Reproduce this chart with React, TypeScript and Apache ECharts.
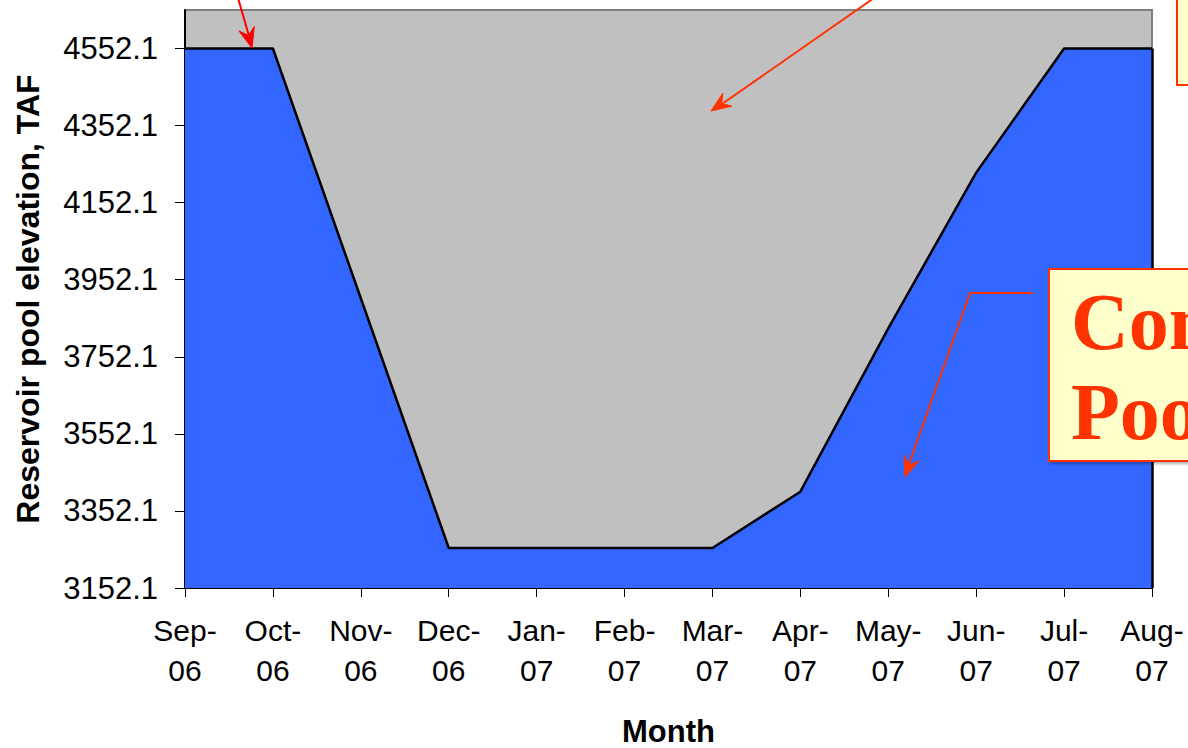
import React, { useEffect, useRef } from "react";
import * as echarts from "echarts";

const months = ["Sep-\n06", "Oct-\n06", "Nov-\n06", "Dec-\n06", "Jan-\n07", "Feb-\n07", "Mar-\n07", "Apr-\n07", "May-\n07", "Jun-\n07", "Jul-\n07", "Aug-\n07"];
const poolElevation = [4552.1, 4552.1, 3904, 3256, 3256, 3256, 3256, 3402, 3826, 4230, 4552.1, 4552.1];
const yTicks = [3152.1, 3352.1, 3552.1, 3752.1, 3952.1, 4152.1, 4352.1, 4552.1];
const yMin = 3152.1;
const yMax = 4652.1;
const calloutLines = ["Conservation", "Pool"];

function arrowHead(tx: number, ty: number, fx: number, fy: number, color: string, len = 20, half = 8) {
  const dx = tx - fx;
  const dy = ty - fy;
  const d = Math.sqrt(dx * dx + dy * dy);
  const ux = dx / d;
  const uy = dy / d;
  const px = -uy;
  const py = ux;
  const bx = tx - ux * len;
  const by = ty - uy * len;
  const nx = tx - ux * len * 0.65;
  const ny = ty - uy * len * 0.65;
  return {
    type: "polygon",
    silent: true,
    z: 110,
    shape: {
      points: [
        [tx, ty],
        [bx + px * half, by + py * half],
        [nx, ny],
        [bx - px * half, by - py * half],
      ],
    },
    style: { fill: color, stroke: color, lineWidth: 1 },
  };
}

export default function App() {
  const ref = useRef<HTMLDivElement>(null);
  useEffect(() => {
    if (!ref.current) return;
    const chart = echarts.init(ref.current, undefined, { renderer: "svg" });
    const red1 = "#FF0000";
    const red2 = "#FF3300";
    chart.setOption({
      animation: false,
      backgroundColor: "#FFFFFF",
      grid: {
        left: 185,
        right: 36,
        top: 10,
        bottom: 160,
        containLabel: false,
        outerBoundsMode: "none",
        show: true,
        backgroundColor: "#C0C0C0",
        borderColor: "#808080",
        borderWidth: 2,
      },
      xAxis: {
        type: "category",
        data: months,
        boundaryGap: false,
        name: "Month",
        nameLocation: "middle",
        nameGap: 128,
        nameTextStyle: { fontFamily: "Liberation Sans", fontSize: 31, fontWeight: "bold", color: "#000" },
        axisLine: { lineStyle: { color: "#000", width: 2 } },
        axisTick: { show: true, length: 9, lineStyle: { color: "#000", width: 1 } },
        axisLabel: {
          interval: 0,
          margin: 22,
          fontFamily: "Liberation Sans",
          fontSize: 30,
          lineHeight: 40,
          color: "#000",
        },
        splitLine: { show: false },
      },
      yAxis: {
        type: "value",
        min: yMin,
        max: yMax,
        name: "Reservoir pool elevation, TAF",
        nameLocation: "middle",
        nameGap: 141,
        nameTextStyle: { fontFamily: "Liberation Sans", fontSize: 32, fontWeight: "bold", color: "#000" },
        axisLine: { show: true, lineStyle: { color: "#000", width: 2 } },
        axisTick: { show: true, length: 10, customValues: yTicks, lineStyle: { color: "#000", width: 1 } },
        axisLabel: {
          customValues: yTicks,
          margin: 27,
          fontFamily: "Liberation Sans",
          fontSize: 31,
          color: "#000",
          formatter: (v: number) => v.toFixed(1),
        },
        splitLine: { show: false },
      },
      series: [
        {
          type: "line",
          data: poolElevation,
          symbol: "none",
          lineStyle: { color: "#000", width: 2.5 },
          areaStyle: { color: "#3366FF", opacity: 1, origin: "start" },
          z: 3,
          markLine: {
            silent: true,
            symbol: ["none", "none"],
            label: { show: false },
            lineStyle: { color: "#000", width: 2.5, type: "solid" },
            data: [
              [
                { coord: [months[months.length - 1], yMin] },
                { coord: [months[months.length - 1], poolElevation[poolElevation.length - 1]] },
              ],
            ],
          },
        },
      ],
      graphic: [
        {
          type: "line",
          silent: true,
          z: 110,
          shape: { x1: 238, y1: -2, x2: 249, y2: 36 },
          style: { stroke: red1, lineWidth: 2 },
        },
        arrowHead(252, 48, 238, -2, red1),
        {
          type: "line",
          silent: true,
          z: 110,
          shape: { x1: 874, y1: -2, x2: 722, y2: 104 },
          style: { stroke: red2, lineWidth: 2 },
        },
        arrowHead(711, 111, 874, -2, red2),
        {
          type: "polyline",
          silent: true,
          z: 110,
          shape: { points: [[1033, 293], [970, 293], [909, 464]] },
          style: { stroke: red2, lineWidth: 2, fill: "none" },
        },
        arrowHead(905, 477, 970, 293, red2),
        {
          type: "rect",
          silent: true,
          z: 120,
          shape: { x: 1177, y: -5, width: 40, height: 90 },
          style: { fill: "#FFFFCC", stroke: red2, lineWidth: 2 },
        },
        {
          type: "rect",
          silent: true,
          z: 120,
          shape: { x: 1049, y: 269, width: 200, height: 192 },
          style: { fill: "#FFFFCC", stroke: red2, lineWidth: 2, shadowBlur: 3, shadowColor: "rgba(0,0,0,0.3)", shadowOffsetX: 2, shadowOffsetY: 2 },
        },
        {
          type: "text",
          silent: true,
          z: 130,
          x: 1071,
          y: 322,
          style: {
            text: calloutLines[0],
            fontFamily: "Liberation Serif",
            fontWeight: "bold",
            fontSize: 80,
            fill: red2,
            align: "left",
            verticalAlign: "middle",
          },
        },
        {
          type: "text",
          silent: true,
          z: 130,
          x: 1071,
          y: 412,
          style: {
            text: calloutLines[1],
            fontFamily: "Liberation Serif",
            fontWeight: "bold",
            fontSize: 80,
            fill: red2,
            align: "left",
            verticalAlign: "middle",
          },
        },
      ],
    });
    return () => chart.dispose();
  }, []);
  return (
    <div
      ref={ref}
      style={{ position: "absolute", left: 0, top: 0, width: 1188, height: 748, overflow: "hidden" }}
    />
  );
}
